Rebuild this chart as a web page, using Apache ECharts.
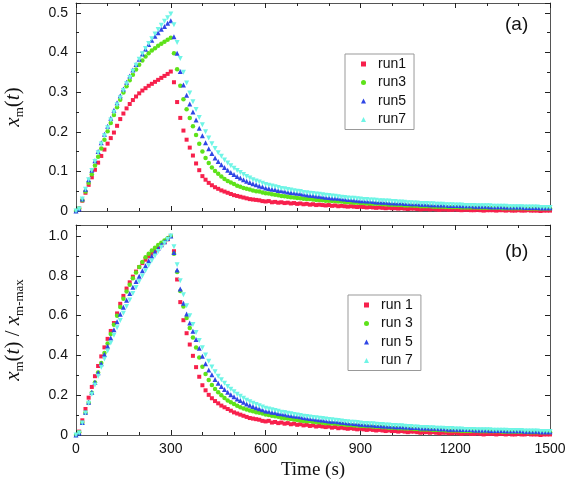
<!DOCTYPE html>
<html><head><meta charset="utf-8">
<script src="https://cdn.jsdelivr.net/npm/echarts@6/dist/echarts.min.js"></script>
<style>html,body{margin:0;padding:0;background:#fff}#c{width:567px;height:486px}</style>
</head><body><div id="c"></div>
<script>
// time (s)
const time = [0,10,20,30,40,50,60,70,80,90,100,110,120,130,140,150,160,170,180,190,200,210,220,230,240,250,260,270,280,290,300,
310,320,330,340,350,360,370,380,390,400,410,420,430,440,450,460,470,480,490,500,510,520,530,540,550,560,570,580,590,600,
610,620,630,640,650,660,670,680,690,700,710,720,730,740,750,760,770,780,790,800,810,820,830,840,850,860,870,880,890,900,
910,920,930,940,950,960,970,980,990,1000,1010,1020,1030,1040,1050,1060,1070,1080,1090,1100,1110,1120,1130,1140,1150,1160,1170,1180,1190,1200,
1210,1220,1230,1240,1250,1260,1270,1280,1290,1300,1310,1320,1330,1340,1350,1360,1370,1380,1390,1400,1410,1420,1430,1440,1450,1460,1470,1480,1490,1500];

// x_m(t) for each run
const run1 = [0.000,0.006,0.026,0.046,0.066,0.085,0.104,0.122,0.139,0.155,
0.170,0.184,0.198,0.215,0.232,0.246,0.259,0.270,0.280,0.289,
0.297,0.304,0.310,0.316,0.321,0.326,0.331,0.336,0.341,0.346,0.352,
0.325,0.275,0.235,0.203,0.180,0.160,0.140,0.120,0.103,0.088,
0.079,0.071,0.065,0.060,0.056,0.052,0.049,0.046,0.043,0.040,
0.038,0.036,0.034,0.032,0.030,0.029,0.028,0.027,0.025,0.024,
0.025,0.022,0.023,0.021,0.022,0.020,0.021,0.019,0.020,0.018,
0.019,0.017,0.018,0.016,0.017,0.015,0.016,0.015,0.014,0.015,
0.013,0.014,0.012,0.013,0.012,0.011,0.012,0.011,0.010,0.011,
0.010,0.009,0.010,0.009,0.008,0.009,0.008,0.007,0.008,0.007,
0.007,0.006,0.007,0.006,0.005,0.006,0.006,0.005,0.004,0.005,
0.005,0.004,0.005,0.004,0.003,0.004,0.004,0.003,0.003,0.004,
0.003,0.002,0.003,0.003,0.002,0.002,0.003,0.002,0.001,0.002,
0.002,0.002,0.001,0.002,0.002,0.001,0.002,0.001,0.001,0.002,
0.001,0.001,0.002,0.001,0.001,0.001,0.000,0.001,0.001,0.001];

const run3 = [0.000,0.006,0.027,0.049,0.071,0.093,0.115,0.137,0.158,0.180,
0.201,0.222,0.242,0.262,0.281,0.299,0.315,0.330,0.344,0.357,
0.369,0.380,0.390,0.398,0.405,0.411,0.417,0.422,0.427,0.432,0.437,
0.398,0.358,0.316,0.282,0.257,0.235,0.214,0.192,0.170,0.150,
0.134,0.121,0.110,0.101,0.094,0.087,0.081,0.076,0.072,0.068,
0.064,0.061,0.058,0.056,0.054,0.052,0.050,0.049,0.047,0.045,
0.044,0.042,0.041,0.040,0.038,0.037,0.036,0.035,0.034,0.033,
0.032,0.031,0.030,0.030,0.029,0.028,0.028,0.027,0.026,0.026,
0.025,0.025,0.024,0.024,0.023,0.022,0.022,0.021,0.021,0.020,
0.020,0.019,0.019,0.018,0.018,0.018,0.017,0.017,0.016,0.016,
0.016,0.015,0.015,0.014,0.014,0.014,0.013,0.013,0.012,0.012,
0.012,0.012,0.011,0.011,0.011,0.011,0.010,0.010,0.010,0.010,
0.010,0.009,0.009,0.009,0.009,0.009,0.009,0.008,0.008,0.008,
0.008,0.008,0.008,0.008,0.007,0.007,0.007,0.007,0.007,0.007,
0.007,0.007,0.006,0.006,0.006,0.006,0.006,0.006,0.006,0.006];

const run5 = [0.000,0.005,0.030,0.055,0.079,0.103,0.127,0.150,0.172,0.194,
0.214,0.234,0.254,0.273,0.291,0.308,0.325,0.341,0.356,0.370,
0.383,0.396,0.408,0.420,0.431,0.441,0.450,0.459,0.466,0.474,0.480,
0.440,0.398,0.352,0.318,0.292,0.270,0.250,0.230,0.209,0.190,
0.172,0.157,0.145,0.134,0.125,0.117,0.110,0.103,0.097,0.092,
0.087,0.083,0.079,0.075,0.072,0.069,0.066,0.063,0.061,0.058,
0.057,0.055,0.054,0.052,0.051,0.050,0.048,0.047,0.046,0.045,
0.044,0.042,0.041,0.040,0.039,0.038,0.037,0.036,0.035,0.034,
0.033,0.033,0.032,0.031,0.030,0.029,0.029,0.028,0.027,0.026,
0.026,0.025,0.025,0.024,0.023,0.023,0.022,0.022,0.021,0.021,
0.020,0.020,0.020,0.019,0.019,0.018,0.018,0.018,0.017,0.017,
0.017,0.016,0.016,0.016,0.015,0.015,0.015,0.014,0.014,0.014,
0.014,0.013,0.013,0.013,0.013,0.012,0.012,0.012,0.012,0.012,
0.011,0.011,0.011,0.011,0.011,0.010,0.010,0.010,0.010,0.010,
0.010,0.009,0.009,0.009,0.009,0.009,0.008,0.008,0.008,0.008];

const run7 = [0.000,0.005,0.030,0.055,0.079,0.102,0.125,0.147,0.169,0.190,
0.210,0.230,0.249,0.268,0.286,0.304,0.321,0.337,0.353,0.368,
0.383,0.397,0.410,0.423,0.435,0.447,0.458,0.469,0.479,0.488,0.497,
0.470,0.425,0.385,0.350,0.323,0.298,0.276,0.256,0.236,0.218,
0.200,0.184,0.170,0.158,0.147,0.138,0.129,0.121,0.114,0.108,
0.102,0.097,0.092,0.087,0.083,0.079,0.076,0.073,0.070,0.067,
0.065,0.063,0.061,0.059,0.057,0.056,0.054,0.053,0.051,0.050,
0.049,0.047,0.046,0.045,0.044,0.043,0.042,0.041,0.040,0.039,
0.038,0.037,0.036,0.035,0.034,0.033,0.032,0.032,0.031,0.030,
0.029,0.029,0.028,0.028,0.027,0.026,0.026,0.025,0.025,0.024,
0.024,0.023,0.023,0.022,0.021,0.021,0.020,0.020,0.019,0.019,
0.019,0.018,0.018,0.017,0.017,0.017,0.016,0.016,0.016,0.015,
0.015,0.015,0.014,0.014,0.014,0.014,0.013,0.013,0.013,0.013,
0.013,0.012,0.012,0.012,0.012,0.012,0.011,0.011,0.011,0.011,
0.011,0.010,0.010,0.010,0.010,0.010,0.009,0.009,0.009,0.009];

const namesA = ['run1','run3','run5','run7'];
const namesB = ['run 1','run 3','run 5','run 7'];

const runs = [run1, run3, run5, run7];
const styles = [
  {color:'#f7204c', symbol:'rect', size:4, rotate:0},
  {color:'#5ee21a', symbol:'circle', size:4.5, rotate:0},
  {color:'#2f46e6', symbol:'triangle', size:5, rotate:0},
  {color:'#6ff5e6', symbol:'triangle', size:5, rotate:180}
];

const chart = echarts.init(document.getElementById('c'), null, {renderer:'canvas'});
const axisCol = '#555';
const lblFont = {fontFamily:'Liberation Sans, Arial', fontSize:14, color:'#111'};

function xAxisFor(grid, pos, labels){
  return {type:'value', gridIndex:grid, position:pos, min:0, max:1500, interval:300,
    axisLine:{show:true, onZero:false, lineStyle:{color:axisCol, width:1}},
    axisTick:{show:true, inside:true, length:5, lineStyle:{color:'#222'}},
    minorTick:{show:true, splitNumber:3, length:3, lineStyle:{color:'#222'}},
    splitLine:{show:false},
    axisLabel:Object.assign({show:labels, margin:7, formatter:v => String(v)}, lblFont)};
}
function yAxisFor(grid, pos, labels, max, interval, name){
  const ax = {type:'value', gridIndex:grid, position:pos, min:0, max:max, interval:interval,
    axisLine:{show:true, onZero:false, lineStyle:{color:axisCol, width:1}},
    axisTick:{show:true, inside:true, length:5, lineStyle:{color:'#222'}},
    minorTick:{show:true, splitNumber:2, length:3, lineStyle:{color:'#222'}},
    splitLine:{show:false},
    axisLabel:Object.assign({show:labels, margin:8, showMaxLabel:false,
      formatter:v => v===0 ? '0' : v.toFixed(1)}, lblFont)};
  if (name) {
    ax.name = name; ax.nameLocation='middle'; ax.nameRotate=90; ax.nameGap=50;
    ax.nameTextStyle = {rich:{
      x:{fontFamily:'Liberation Serif', fontStyle:'italic', fontSize:21, color:'#111'},
      p:{fontFamily:'Liberation Serif', fontSize:21, color:'#111'},
      m:{fontFamily:'Liberation Serif', fontSize:13, color:'#111', padding:[12,0,0,0]}
    }};
  }
  return ax;
}

const series = [];
runs.forEach((r,k) => {
  const st = styles[k];
  const pk = Math.max(...r);
  series.push({name:namesA[k], type:'scatter', xAxisIndex:0, yAxisIndex:0,
    symbol:st.symbol, symbolSize:st.size, symbolRotate:st.rotate,
    itemStyle:{color:st.color, opacity:1},
    data: time.map((t,i) => [t, r[i]])});
  series.push({name:namesB[k], type:'scatter', xAxisIndex:2, yAxisIndex:2,
    symbol:st.symbol, symbolSize:st.size, symbolRotate:st.rotate,
    itemStyle:{color:st.color, opacity:1},
    data: time.map((t,i) => [t, r[i]/pk])});
});

const legendBase = {orient:'vertical', itemWidth:5, itemHeight:5, itemGap:4.5,
  backgroundColor:'#fff', borderColor:'#999', borderWidth:1, borderRadius:0,
  formatter: n => '\u2002' + n,
  textStyle:{fontFamily:'Liberation Sans, Arial', fontSize:14, color:'#111', lineHeight:14}};

chart.setOption({
  animation:false,
  backgroundColor:'#fff',
  grid:[
    {left:76, top:3, width:474, height:208, containLabel:false, outerBoundsMode:'none'},
    {left:76, top:225, width:474, height:210, containLabel:false, outerBoundsMode:'none'}
  ],
  xAxis:[
    xAxisFor(0,'bottom',false), xAxisFor(0,'top',false),
    Object.assign(xAxisFor(1,'bottom',true), {name:'Time (s)', nameLocation:'middle', nameGap:26,
      nameTextStyle:{fontFamily:'Liberation Serif', fontSize:19, color:'#111'}}),
    xAxisFor(1,'top',false)
  ],
  yAxis:[
    yAxisFor(0,'left',true,0.525,0.1,'{x|x}{m|m}{p|(}{x|t}{p|)}'),
    yAxisFor(0,'right',false,0.525,0.1,null),
    yAxisFor(1,'left',true,1.055,0.2,'{x|x}{m|m}{p|(}{x|t}{p|) / }{x|x}{m|m-max}'),
    yAxisFor(1,'right',false,1.055,0.2,null)
  ],
  legend:[
    Object.assign({}, legendBase, {data:namesA, left:345, top:54, padding:[3,8,3,16]}),
    Object.assign({}, legendBase, {data:namesB, left:348, top:295, padding:[3,8,3,16]})
  ],
  graphic:[
    {type:'text', left:505, top:15, style:{text:'(a)', fontFamily:'Liberation Sans, Arial', fontSize:19, fill:'#111'}},
    {type:'text', left:505, top:242, style:{text:'(b)', fontFamily:'Liberation Sans, Arial', fontSize:19, fill:'#111'}}
  ],
  series:series
});
</script>
</body></html>
